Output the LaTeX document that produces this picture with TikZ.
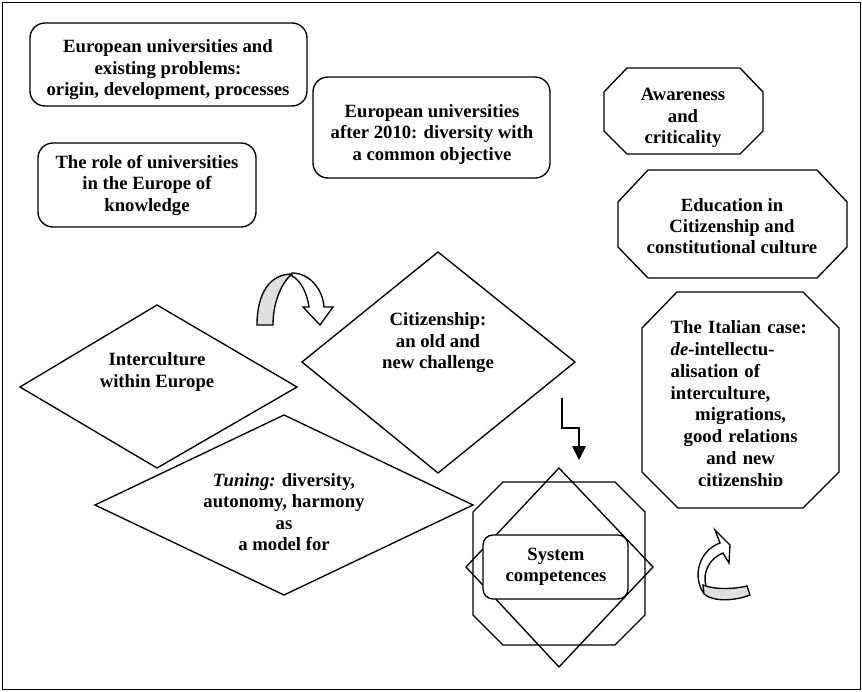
\documentclass[tikz,border=0pt]{standalone}
\usepackage{fontspec}
\setmainfont{Liberation Serif}
\begin{document}
\begin{tikzpicture}[x=1pt,y=-1pt,line width=1.35pt,line join=miter]
\tikzset{
  txt/.style={font=\fontsize{18.7}{21.5}\selectfont\bfseries,align=center,inner sep=0pt},
  rbox/.style={draw,rounded corners=15pt},
  shp/.style={draw},
  greyband/.style={draw,fill=gray!25},
  whiteband/.style={draw,fill=white},
}
\path[use as bounding box] (0,0) rectangle (862,691);
\draw[line width=0.8pt] (2,2) rectangle (860,689);

% rounded boxes
\draw[rbox] (30,23) rectangle (307,106);
\draw[rbox] (313,77) rectangle (550,178);
\draw[rbox] (38,143) rectangle (256,227);

% octagons right
\draw[shp] (627,68) -- (740,68) -- (763,92) -- (763,131) -- (740,154) -- (627,154) -- (604,131) -- (604,92) -- cycle;
\draw[shp] (648,170) -- (817,170) -- (847,202) -- (847,247) -- (817,278) -- (648,278) -- (618,247) -- (618,202) -- cycle;
\draw[shp] (677,292) -- (803,292) -- (839,328) -- (839,472) -- (803,508) -- (678,508) -- (642,472) -- (642,328) -- cycle;

% diamonds
\draw[shp] (20,387) -- (157,305) -- (297,387) -- (157,468) -- cycle;
\draw[shp] (95,505) -- (284,415) -- (473,505) -- (284,595) -- cycle;
\draw[shp] (302,362) -- (438,252) -- (575,362) -- (438,473) -- cycle;

% system competences group
\draw[shp] (503,482) -- (615,482) -- (645,512) -- (645,615) -- (615,645) -- (503,645) -- (473,615) -- (473,512) -- cycle;
\draw[shp] (559,468) -- (653,567) -- (559,667) -- (466,567) -- cycle;
\draw[shp,fill=white,rounded corners=10pt] (483,535) rectangle (628,599);

% bent arrow
\coordinate (ba1) at (562,398);
\coordinate (ba2) at (579,448);
\draw[line width=1.3pt] (ba1) -- (562,428) -- (579,428) -- (ba2);
\fill (572,446) -- (586,446) -- (579,460) -- cycle;

% curved arrow top
\draw[greyband] (257,325) .. controls (257,293) and (270,274) .. (292,274) .. controls (283,281) and (273,300) .. (273,325) -- cycle;
\draw[whiteband] (292,273) .. controls (310,273) and (323,290) .. (324,307) -- (333,307) -- (320,325) -- (303,307) -- (309,307) .. controls (307,292) and (300,280) .. (292,276) -- cycle;

% curved arrow bottom right
\draw[whiteband] (703,592) .. controls (692,575) and (700,550) .. (720,543) -- (715,530) -- (730,545) -- (729,563) -- (723,553) .. controls (710,558) and (702,572) .. (706,586) -- cycle;
\draw[greyband] (703,585) .. controls (715,590) and (735,589) .. (747,586) -- (750,595) .. controls (735,601) and (713,602) .. (704,594) -- cycle;

% texts
\node[txt] (b1) at (168,70) {European universities and\\existing problems:\\origin, development, processes};
\node[txt] (b2) at (432,134) {European universities\\after 2010: diversity with\\a common objective};
\node[txt] (b3) at (147,185) {The role of universities\\in the Europe of\\knowledge};
\node[txt] (aw) at (683,118) {Awareness\\and\\criticality};
\node[txt,font=\fontsize{18.7}{21}\selectfont\bfseries] (ed) at (732,226) {Education in\\Citizenship and\\constitutional culture};
\node[txt] (ic) at (157,372) {Interculture\\within Europe};
\node[txt] (ci) at (438,343) {Citizenship:\\an old and\\new challenge};
\node[txt] (tu) at (284,512) {\textit{Tuning:} diversity,\\autonomy, harmony\\as\\a model for};
\node[txt] (sc) at (556,567) {System\\competences};
\begin{scope}
\clip (600,280) rectangle (850,485);
\node[txt,align=left,text width=140pt,anchor=north west,font=\fontsize{18.7}{21.8}\selectfont\bfseries] (it) at (670,320)
 {The Italian case:\\\textit{de}-intellectu-\\alisation of\\interculture,\\\makebox[140pt][c]{migrations,}\\\makebox[140pt][c]{good relations}\\\makebox[140pt][c]{and new}\\\makebox[140pt][c]{citizenship}};
\end{scope}
\end{tikzpicture}
\end{document}
